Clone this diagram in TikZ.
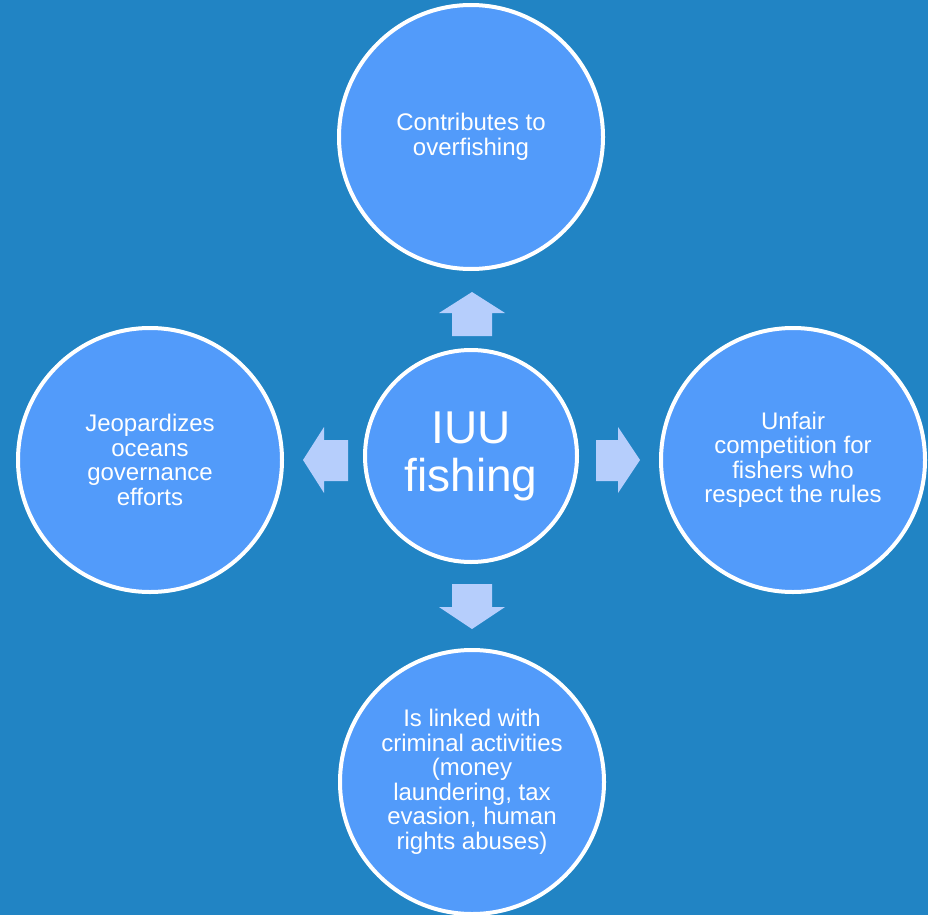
\documentclass[tikz,border=0pt]{standalone}
\usepackage{fontspec}
\setmainfont{Liberation Sans}
\definecolor{seablue}{HTML}{2184C4}
\definecolor{bubble}{HTML}{529BFA}
\definecolor{pale}{HTML}{B6CEFC}
\begin{document}
\begin{tikzpicture}[x=1pt,y=-1pt,
    effect/.style={circle,draw=white,line width=4pt,fill=bubble,text=white,
      minimum size=264pt,inner sep=0pt,align=center,
      font=\fontsize{24}{24.5}\selectfont},
    core/.style={effect,minimum size=212pt,font=\fontsize{46}{48}\selectfont},
    blockarrow/.style={fill=pale}]
  \fill[seablue] (0,0) rectangle (928,915);
  \useasboundingbox (0,0) rectangle (928,915);
  % the cause in the middle and its four effects
  \draw
    (471,456) node[core] (iuu){IUU\\fishing}
    (471,137) node[effect] (over){Contributes to\\overfishing}
    (793,460) node[effect] (unfair){Unfair\\competition for\\fishers who\\respect the rules}
    (472,782) node[effect] (crime){Is linked with\\criminal activities\\(money\\laundering, tax\\evasion, human\\rights abuses)}
    (150,460) node[effect] (gov){Jeopardizes\\oceans\\governance\\efforts};
  % block arrows between them
  \begin{scope}[blockarrow]
    \fill (452,336) -- (452,313) -- (439,313) -- (472,292) -- (505,313) -- (492,313) -- (492,336) -- cycle;
    \fill (596,440) -- (618,440) -- (618,427) -- (640,460) -- (618,493) -- (618,481) -- (596,481) -- cycle;
    \fill (452,584) -- (452,607) -- (439,607) -- (472,629) -- (505,607) -- (492,607) -- (492,584) -- cycle;
    \fill (348,440) -- (324,440) -- (324,427) -- (303,460) -- (324,493) -- (324,481) -- (348,481) -- cycle;
  \end{scope}
\end{tikzpicture}
\end{document}
